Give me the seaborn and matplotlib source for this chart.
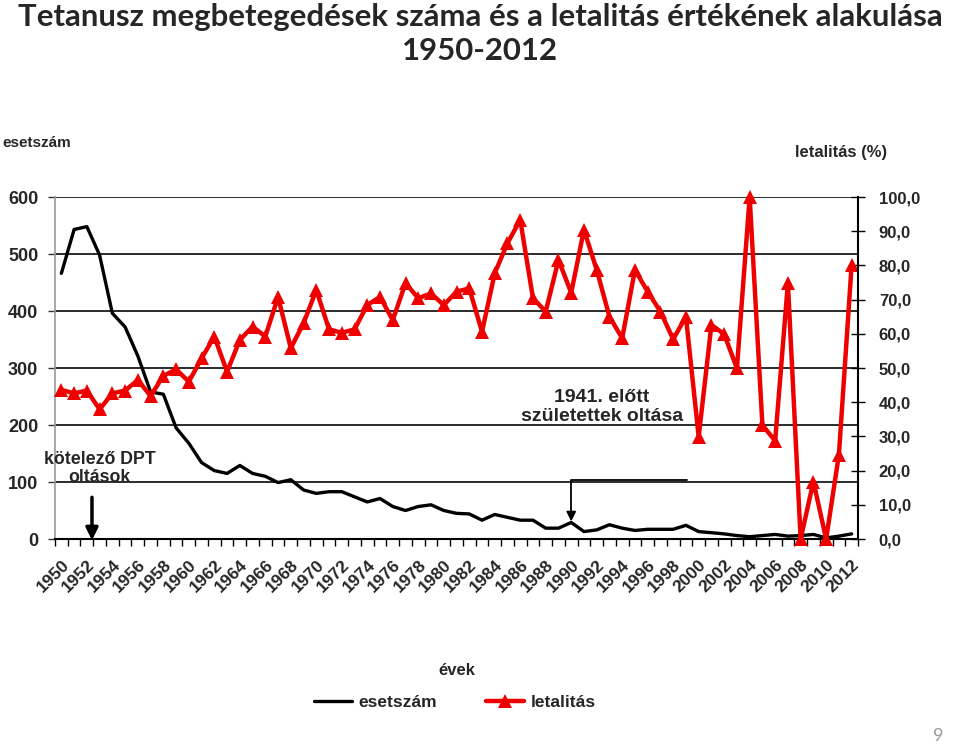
import numpy as np
import pandas as pd
import seaborn as sns
import matplotlib.pyplot as plt
from matplotlib.lines import Line2D

sns.set_theme(style='white')
plt.rcParams['font.family'] = ['Liberation Sans', 'DejaVu Sans']
plt.rcParams['font.weight'] = 'bold'

evek = list(range(1950, 2013))

esetszam = [466, 543, 548, 498, 396, 372, 321, 258, 254, 195,
            168, 134, 120, 115, 129, 115, 110, 99, 104, 86,
            80, 83, 83, 74, 65, 71, 57, 50, 57, 60,
            50, 45, 44, 33, 43, 38, 33, 33, 19, 19,
            29, 13, 16, 25, 19, 15, 17, 17, 17, 24,
            13, 11, 9, 6, 4, 6, 8, 5, 6, 8,
            2, 5, 9]

letalitas = [43.6, 42.6, 43.4, 37.9, 42.6, 43.4, 46.5, 41.8, 47.7, 49.6,
             46.0, 52.8, 59.2, 48.9, 58.2, 62.1, 59.2, 70.8, 55.8, 63.1,
             72.8, 61.3, 60.3, 61.3, 68.4, 70.8, 64.0, 74.8, 70.4, 71.8,
             68.4, 72.3, 73.3, 60.6, 77.7, 86.5, 93.3, 70.4, 66.5, 81.6,
             72.0, 90.4, 78.7, 65.0, 58.7, 78.7, 72.3, 66.5, 58.4, 65.0,
             29.9, 62.6, 59.9, 49.9, 100.0, 33.3, 28.7, 74.8, 0.0, 16.8,
             0.0, 24.6, 80.1]

bal_tickek = [0, 100, 200, 300, 400, 500, 600]
jobb_tickek = [0, 10, 20, 30, 40, 50, 60, 70, 80, 90, 100]

df = pd.DataFrame({'ev': evek, 'esetszam': esetszam, 'letalitas': letalitas})

piros = '#ee0000'

fig = plt.figure(figsize=(9.6, 7.44), dpi=100)
ax = fig.add_axes([55 / 960, 1 - 539 / 744, 803 / 960, 342 / 744])

sns.lineplot(data=df, x='ev', y='esetszam', ax=ax, color='black', lw=2.4, legend=False)

ax2 = ax.twinx()
sns.lineplot(data=df, x='ev', y='letalitas', ax=ax2, color=piros, lw=3.2,
             marker='^', markersize=10, markeredgecolor=piros, markeredgewidth=0,
             clip_on=False, legend=False)

ax.set_xlim(1949.5, 2012.5)
ax.set_ylim(0, 600)
ax2.set_ylim(0, 100)

# bal tengely
ax.set_yticks(bal_tickek)
ax.set_yticklabels([str(v) for v in bal_tickek], fontsize=13, fontweight='bold')
ax.grid(axis='y', color='#1a1a1a', lw=1.3)
ax.grid(axis='x', visible=False)
ax.tick_params(axis='y', left=True, length=5, width=1, color='#333', pad=7)
ax.set_ylabel('')

# x tengely
ax.set_xticks(evek[::2])
ax.set_xticklabels([str(e) for e in evek[::2]], rotation=45, ha='right',
                   rotation_mode='anchor', fontsize=12.5, fontweight='bold')
ax.set_xticks([e - 0.5 for e in evek] + [2012.5], minor=True)
ax.tick_params(axis='x', which='major', length=0, pad=13)
ax.tick_params(axis='x', which='minor', bottom=True, length=5, width=1, color='black', direction='out')
ax.xaxis.set_label_coords(0.512, -0.3626)
ax.set_xlabel('évek', fontsize=12, fontweight='bold')

# jobb tengely
ax2.set_yticks(jobb_tickek)
ax2.set_yticklabels([f'{v:.1f}'.replace('.', ',') for v in jobb_tickek], fontsize=12, fontweight='bold')
ax2.tick_params(axis='y', right=True, direction='inout', length=10, width=1, color='black', pad=10)
ax2.set_ylabel('')
ax2.grid(False)

for a in (ax, ax2):
    for s in ('top', 'left', 'right', 'bottom'):
        a.spines[s].set_visible(False)
ax.spines['left'].set_visible(True)
ax.spines['left'].set_color('#999999')
ax.spines['left'].set_linewidth(1.2)
ax2.spines['right'].set_visible(True)
ax2.spines['right'].set_color('black')
ax2.spines['right'].set_linewidth(1.5)
ax.spines['bottom'].set_visible(True)
ax.spines['bottom'].set_color('black')
ax.spines['bottom'].set_linewidth(1.5)

# megjegyzések
ax.text(1953.0, 124, 'kötelező DPT\noltások', ha='center', va='center',
        fontsize=12.8, fontweight='bold', linespacing=1.1)
ax.annotate('', xy=(1952.4, -7), xytext=(1952.4, 78), annotation_clip=False,
            arrowprops=dict(arrowstyle='-|>', color='black', lw=2.5, mutation_scale=18))

ax.text(1992.4, 232, '1941. előtt\nszületettek oltása', ha='center', va='center',
        fontsize=14, fontweight='bold', linespacing=1.15)
ax.plot([1990, 1990, 1999.1], [40, 103.5, 103.5], color='black', lw=1.3)
ax.annotate('', xy=(1990, 26), xytext=(1990, 50), annotation_clip=False,
            arrowprops=dict(arrowstyle='-|>', color='black', lw=1.3, mutation_scale=14))

# cím és feliratok
fig.text(0.5, 1 - 17 / 744, 'Tetanusz megbetegedések száma és a letalitás értékének alakulása',
         ha='center', va='center', fontsize=22.4, fontweight='bold', family=['Lato', 'DejaVu Sans'])
fig.text(0.5, 1 - 51 / 744, '1950-2012', ha='center', va='center',
         fontsize=22.4, fontweight='bold', family=['Lato', 'DejaVu Sans'])
fig.text(2 / 960, 1 - 143 / 744, 'esetszám', ha='left', va='center', fontsize=11, fontweight='bold')
fig.text(795 / 960, 1 - 152 / 744, 'letalitás (%)', ha='left', va='center', fontsize=12, fontweight='bold')
fig.text(938 / 960, 1 - 736 / 744, '9', ha='center', va='center', fontsize=13,
         fontweight='normal', color='#999999', family=['Lato', 'DejaVu Sans'])

# jelmagyarázat
kezelok = [Line2D([], [], color='black', lw=2.4),
           Line2D([], [], color=piros, lw=3.2, marker='^', markersize=10, markeredgewidth=0)]
fig.legend(kezelok, ['esetszám', 'letalitás'], loc='center',
           bbox_to_anchor=(455 / 960, 1 - 702 / 744), ncol=2, frameon=False,
           prop={'size': 12.5, 'weight': 'bold'}, handlelength=2.2, columnspacing=2.8,
           handletextpad=0.4)

fig.savefig('out.png', dpi=100)
